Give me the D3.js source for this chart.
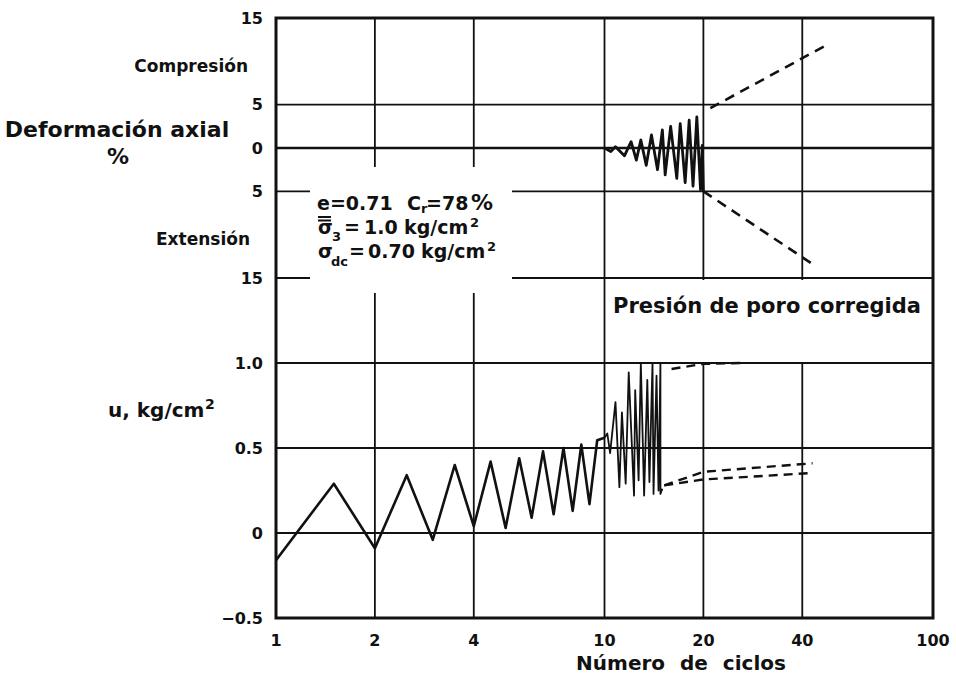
<!DOCTYPE html>
<html>
<head>
<meta charset="utf-8">
<script src="https://cdn.jsdelivr.net/npm/d3@7"></script>
<style>
	body { margin: 0; background: white; }
	text { font-family: "DejaVu Sans", sans-serif; font-weight: bold; fill: #111; }
</style>
</head>
<body>
<div id="viz"></div>
<script>
// ticks
let xTicks = [1, 2, 4, 10, 20, 40, 100];
let strainTicks = [15, 5, 0, -5, -15];
let uTicks = [1.0, 0.5, 0, -0.5];

// axial strain (compression +, extension -)
let strainCycles = [10, 10.45, 10.8, 11.5, 12.05, 12.5, 12.9, 13.4, 13.9, 14.5, 15.0, 15.3, 15.9, 16.6, 17.0, 17.6, 18.1, 18.6, 19.1, 19.6, 19.85, 20];
let strainValues = [0, -0.4, 0.15, -0.9, 0.73, -1.4, 0.92, -2.0, 1.5, -2.5, 2.1, -3.1, 2.5, -3.5, 2.8, -4.0, 3.2, -4.4, 3.6, -4.8, 0.3, -5.0];
let compCycles = [21, 47];
let compValues = [4.6, 11.8];
let extCycles = [20, 43.4];
let extValues = [-5.0, -13.5];

// pore pressure u, kg/cm2
let poreCycles = [1, 1.5, 2, 2.5, 3, 3.5, 4, 4.5, 5, 5.5, 6, 6.5, 7, 7.5, 8, 8.5, 9, 9.5, 10];
let poreValues = [-0.16, 0.29, -0.09, 0.34, -0.04, 0.40, 0.04, 0.42, 0.03, 0.44, 0.09, 0.48, 0.11, 0.50, 0.13, 0.52, 0.17, 0.545, 0.56];
let spikeCycles = [10, 10.2, 10.4, 10.8, 11.1, 11.3, 11.6, 11.85, 12.3, 12.4, 12.7, 12.9, 13.2, 13.5, 13.7, 14.0, 14.1, 14.4, 14.6, 14.8, 14.8, 15.0];
let spikeValues = [0.56, 0.585, 0.47, 0.77, 0.27, 0.71, 0.29, 0.945, 0.22, 0.84, 0.31, 1.0, 0.22, 0.90, 0.30, 1.0, 0.23, 0.925, 0.25, 1.0, 0.23, 0.26];
let corrTopCycles = [16, 20, 26];
let corrTopValues = [0.965, 0.995, 1.0];
let corrUpCycles = [15.2, 20, 43];
let corrUpValues = [0.28, 0.36, 0.41];
let corrLowCycles = [15.2, 20, 43];
let corrLowValues = [0.28, 0.315, 0.353];

function pts(xs, ys) {
	return xs.map((d, i) => ({"n": d, "v": ys[i]}));
}

let width = 956, height = 681;
let pLeft = 276, pRight = 933, pTop = 18, pMid = 278, pBottom = 618;

let svg = d3.select("#viz").append("svg")
	.attr("width", width).attr("height", height);

let x = d3.scaleLog().domain([1, 100]).range([pLeft, pRight]);
let yS = d3.scaleLinear().domain([-15, 15]).range([pMid, pTop]);
let yU = d3.scaleLinear().domain([-0.5, 1.5]).range([pBottom, pMid]);

let grid = svg.append("g").attr("stroke", "#111").attr("stroke-width", 1.8);

// vertical grid, both panels
xTicks.slice(1, -1).forEach(t => {
	grid.append("line")
		.attr("x1", x(t)).attr("x2", x(t))
		.attr("y1", pTop).attr("y2", pBottom);
});
strainTicks.slice(1).forEach(t => {
	grid.append("line")
		.attr("x1", pLeft).attr("x2", pRight)
		.attr("y1", yS(t)).attr("y2", yS(t))
		.attr("stroke-width", t === 0 ? 2.6 : 1.8);
});
uTicks.slice(0, -1).forEach(t => {
	grid.append("line")
		.attr("x1", pLeft).attr("x2", pRight)
		.attr("y1", yU(t)).attr("y2", yU(t));
});

// white boxes of the annotations
svg.append("rect").attr("x", 310).attr("y", 167).attr("width", 202).attr("height", 126).attr("fill", "white");
svg.append("rect").attr("x", x(10) + 2).attr("y", pMid + 2).attr("width", pRight - x(10) - 4).attr("height", yU(1) - pMid - 3).attr("fill", "white");

// frame
svg.append("rect")
	.attr("x", pLeft).attr("y", pTop)
	.attr("width", pRight - pLeft).attr("height", pBottom - pTop)
	.attr("fill", "none").attr("stroke", "#111").attr("stroke-width", 3);

let lineS = d3.line().x(d => x(d.n)).y(d => yS(d.v));
let lineU = d3.line().x(d => x(d.n)).y(d => yU(d.v));

function path(d, w, dash) {
	let p = svg.append("path").attr("d", d)
		.attr("fill", "none").attr("stroke", "#111")
		.attr("stroke-width", w).attr("stroke-linejoin", "round");
	if (dash) p.attr("stroke-dasharray", dash);
	return p;
}

path(lineS(pts(strainCycles, strainValues)), 2.8);
path(lineS(pts(compCycles, compValues)), 2.6, "10,7");
path(lineS(pts(extCycles, extValues)), 2.6, "10,7");

path(lineU(pts(poreCycles, poreValues)), 2.6);
path(lineU(pts(spikeCycles, spikeValues)), 1.8);
path(lineU(pts(corrTopCycles, corrTopValues)), 2.4, "9,6");
path(lineU(pts(corrUpCycles, corrUpValues)), 2.4, "9,6");
path(lineU(pts(corrLowCycles, corrLowValues)), 2.4, "9,6");

function txt(px, py, s, size, anchor) {
	return svg.append("text").attr("x", px).attr("y", py)
		.attr("font-size", size).attr("text-anchor", anchor || "start")
		.text(s);
}

// tick labels
strainTicks.forEach(t => {
	txt(263, yS(t), Math.abs(t), 16, "end").attr("dominant-baseline", "central");
});
uTicks.forEach(t => {
	txt(263, yU(t), t === 0 ? "0" : d3.format(".1f")(t), 16, "end").attr("dominant-baseline", "central");
});
xTicks.forEach(t => {
	txt(x(t), 640, t, 16, "middle").attr("dominant-baseline", "central");
});

// axis titles
txt(248, 66, "Compresión", 17, "end").attr("dominant-baseline", "central");
txt(250, 239, "Extensión", 17, "end").attr("dominant-baseline", "central");
txt(117, 129, "Deformación axial", 22, "middle").attr("dominant-baseline", "central");
txt(118, 156, "%", 22, "middle").attr("dominant-baseline", "central");

txt(108, 417, "u, kg/cm", 20);
txt(205, 409, "2", 14);

txt(681, 663, "Número de ciclos", 20, "middle").attr("dominant-baseline", "central").attr("word-spacing", 8);
txt(767, 306, "Presión de poro corregida", 21, "middle").attr("dominant-baseline", "central");

// test conditions
txt(317, 210, "e=0.71", 19);
txt(407, 210, "C", 19);
txt(421, 213, "r", 13);
txt(426, 210, "=78", 19);
txt(471, 210, "%", 22);

txt(318, 234, "σ", 19);
txt(332, 241, "3", 13);
txt(344, 234, "=", 19);
txt(364, 234, "1.0", 19);
txt(404, 234, "kg/cm", 19);
txt(470, 227, "2", 13);
svg.append("line").attr("x1", 318).attr("x2", 331).attr("y1", 217).attr("y2", 217).attr("stroke", "#111").attr("stroke-width", 2);
svg.append("line").attr("x1", 318).attr("x2", 331).attr("y1", 220.5).attr("y2", 220.5).attr("stroke", "#111").attr("stroke-width", 2);

txt(318, 258, "σ", 19);
txt(331, 266, "dc", 13);
txt(349, 258, "=", 19);
txt(368, 258, "0.70", 19);
txt(421, 258, "kg/cm", 19);
txt(487, 251, "2", 13);
</script>
</body>
</html>
